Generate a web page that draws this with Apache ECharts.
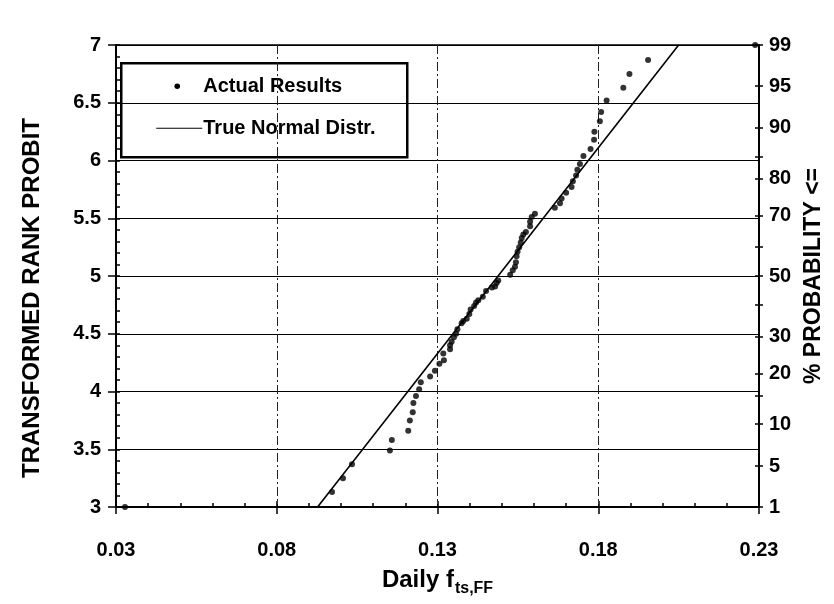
<!DOCTYPE html>
<html>
<head>
<meta charset="utf-8">
<script src="https://cdn.jsdelivr.net/npm/echarts@6/dist/echarts.min.js"></script>
<style>
  html, body { margin: 0; padding: 0; background: #fff; }
  #chart { width: 834px; height: 604px; }
</style>
</head>
<body>
<div id="chart"></div>
<script>
// Daily f_ts,FF observations plotted against their transformed rank probit
const resultX = [
  0.0328, 0.0972, 0.1006, 0.1034, 0.1152, 0.1158, 0.1209, 0.1214, 0.1223, 0.1225,
  0.1233, 0.1243, 0.1248, 0.1277, 0.1292, 0.1306, 0.1320, 0.1318, 0.1339, 0.1339,
  0.1344, 0.1351, 0.1358, 0.1362, 0.1375, 0.1380, 0.1391, 0.1399, 0.1403, 0.1414,
  0.1420, 0.1427, 0.1441, 0.1451, 0.1469, 0.1479, 0.1484, 0.1489, 0.1526, 0.1534,
  0.1541, 0.1544, 0.1546, 0.1549, 0.1554, 0.1559, 0.1562, 0.1567, 0.1575, 0.1588,
  0.1588, 0.1593, 0.1603, 0.1665, 0.1681, 0.1686, 0.1700, 0.1717, 0.1721, 0.1731,
  0.1735, 0.1743, 0.1754, 0.1776, 0.1787, 0.1788, 0.1805, 0.1809, 0.1826, 0.1878,
  0.1897, 0.1955, 0.2288
];
const resultProbit = [
  3.00, 3.13, 3.25, 3.37, 3.49, 3.58, 3.66, 3.75, 3.82, 3.90,
  3.96, 4.02, 4.08, 4.13, 4.18, 4.24, 4.27, 4.33, 4.365, 4.40,
  4.43, 4.47, 4.50, 4.54, 4.59, 4.61, 4.63, 4.67, 4.71, 4.74,
  4.77, 4.79, 4.82, 4.87, 4.90, 4.91, 4.94, 4.96, 5.01, 5.05,
  5.08, 5.12, 5.17, 5.21, 5.25, 5.29, 5.33, 5.36, 5.38, 5.43,
  5.47, 5.51, 5.54, 5.59, 5.63, 5.67, 5.72, 5.77, 5.82, 5.87,
  5.92, 5.97, 6.04, 6.10, 6.18, 6.25, 6.34, 6.42, 6.52, 6.63,
  6.75, 6.87, 7.00
];

// Fitted normal distribution (straight line on probit paper)
const normalX = [0.0927, 0.2050];
const normalProbit = [3, 7];

// Secondary scale: cumulative probability (%) and its probit position
const probPct    = [1, 5, 10, 15, 20, 30, 40, 50, 60, 70, 80, 85, 90, 95, 99];
const probProbit = [3, 3.355, 3.718, 3.964, 4.158, 4.476, 4.747, 5, 5.253, 5.524, 5.842, 6.036, 6.282, 6.645, 7];
const probLabelled = [1, 5, 10, 20, 30, 50, 70, 80, 90, 95, 99];

const labelledProbit = probProbit.filter((v, i) => probLabelled.indexOf(probPct[i]) >= 0);

function pctForProbit(v) {
  let best = 0;
  for (let i = 1; i < probProbit.length; i++) {
    if (Math.abs(probProbit[i] - v) < Math.abs(probProbit[best] - v)) best = i;
  }
  return String(probPct[best]);
}

const FONT = 'Liberation Sans, Arial, sans-serif';
const labelStyle = { color: '#000', fontFamily: FONT, fontWeight: 'bold', fontSize: 20 };
const titleStyle = { fontFamily: FONT, fontWeight: 'bold', color: '#000' };

const chart = echarts.init(document.getElementById('chart'), null, { renderer: 'canvas' });

chart.setOption({
  animation: false,
  backgroundColor: '#fff',
  grid: {
    left: 116, top: 45, width: 643, height: 462,
    show: true, borderColor: '#000', borderWidth: 1.5, backgroundColor: 'transparent'
  },
  xAxis: [
    {
      type: 'value', position: 'bottom', min: 0.03, max: 0.23, interval: 0.05,
      axisLine: { show: true, lineStyle: { color: '#000', width: 2 } },
      axisTick: { show: true, inside: false, length: 7, lineStyle: { color: '#000', width: 1.5 } },
      axisLabel: { ...labelStyle, margin: 33, formatter: v => v.toFixed(2) },
      splitLine: { show: true, lineStyle: { color: '#222', width: 1, type: [9, 3, 2, 3] } },
      name: '{m|Daily f}{s|ts,FF}',
      nameLocation: 'middle', nameGap: 57,
      nameTextStyle: {
        ...titleStyle,
        rich: {
          m: { ...titleStyle, fontSize: 24, lineHeight: 28, verticalAlign: 'bottom' },
          s: { ...titleStyle, fontSize: 16, lineHeight: 28, verticalAlign: 'bottom', padding: [0, 0, -5, 1] }
        }
      }
    },
    {
      type: 'value', position: 'bottom', min: 0.03, max: 0.23, interval: 0.05,
      axisLine: { show: false },
      axisTick: { show: true, inside: true, length: 6, lineStyle: { color: '#000', width: 1.5 } },
      minorTick: { show: true, splitNumber: 5, length: 4, lineStyle: { color: '#000', width: 1.5 } },
      axisLabel: { show: false },
      splitLine: { show: false }
    }
  ],
  yAxis: [
    {
      type: 'value', position: 'left', min: 3, max: 7, interval: 0.5,
      axisLine: { show: true, lineStyle: { color: '#000', width: 2 } },
      axisTick: { show: true, inside: false, length: 8, lineStyle: { color: '#000', width: 1.5 } },
      axisLabel: { ...labelStyle, margin: 15 },
      splitLine: { show: true, lineStyle: { color: '#000', width: 1 } },
      name: 'TRANSFORMED RANK PROBIT',
      nameLocation: 'middle', nameGap: 72, nameRotate: 90,
      nameTextStyle: { ...titleStyle, fontSize: 24, padding: [0, 44, 0, 0] }
    },
    {
      type: 'value', position: 'right', min: 3, max: 7,
      axisLine: { show: true, lineStyle: { color: '#000', width: 2 } },
      axisTick: { show: true, inside: false, length: 4, customValues: probProbit, lineStyle: { color: '#000', width: 1.5 } },
      axisLabel: { ...labelStyle, margin: 10, customValues: labelledProbit, formatter: pctForProbit },
      splitLine: { show: false },
      name: '% PROBABILITY <=',
      nameLocation: 'middle', nameGap: 40, nameRotate: 90,
      nameTextStyle: { ...titleStyle, fontSize: 23 }
    },
    {
      type: 'value', position: 'left', min: 3, max: 7, interval: 0.5,
      axisLine: { show: false },
      axisTick: { show: true, inside: true, length: 4, lineStyle: { color: '#000', width: 1.5 } },
      minorTick: { show: true, splitNumber: 5, length: 4, lineStyle: { color: '#000', width: 1.5 } },
      axisLabel: { show: false },
      splitLine: { show: false }
    },
    {
      type: 'value', position: 'right', min: 3, max: 7,
      axisLine: { show: false },
      axisTick: { show: true, inside: true, length: 4, customValues: probProbit, lineStyle: { color: '#000', width: 1.5 } },
      axisLabel: { show: false },
      splitLine: { show: false }
    }
  ],
  series: [
    {
      name: 'True Normal Distr.',
      type: 'line',
      xAxisIndex: 0, yAxisIndex: 0,
      data: normalX.map((x, i) => [x, normalProbit[i]]),
      showSymbol: false,
      lineStyle: { color: '#000', width: 1.6 },
      clip: true,
      z: 3
    },
    {
      name: 'Actual Results',
      type: 'scatter',
      xAxisIndex: 0, yAxisIndex: 0,
      data: resultX.map((x, i) => [x, resultProbit[i]]),
      symbol: 'circle',
      symbolSize: 6,
      itemStyle: { color: '#000' },
      clip: false,
      z: 4
    }
  ],
  graphic: [
    {
      type: 'group', left: 120, top: 62, z: 10,
      children: [
        { type: 'rect', shape: { x: 0, y: 0, width: 286, height: 94 },
          style: { fill: '#fff', stroke: '#000', lineWidth: 2.5 } },
        { type: 'circle', shape: { cx: 56, cy: 23, r: 2.8 }, style: { fill: '#000' } },
        { type: 'text', x: 82, y: 23,
          style: { text: 'Actual Results', fill: '#000', font: 'bold 20px ' + FONT, verticalAlign: 'middle' } },
        { type: 'line', shape: { x1: 35, y1: 65, x2: 81, y2: 65 }, style: { stroke: '#000', lineWidth: 1.2 } },
        { type: 'text', x: 82, y: 65,
          style: { text: 'True Normal Distr.', fill: '#000', font: 'bold 20px ' + FONT, verticalAlign: 'middle' } }
      ]
    }
  ]
});
</script>
</body>
</html>
